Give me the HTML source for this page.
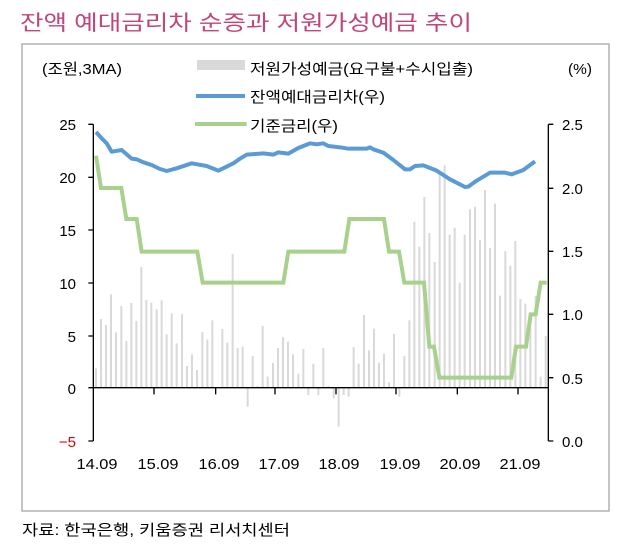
<!DOCTYPE html>
<html><head><meta charset="utf-8"><style>
body{margin:0;background:#fff;width:620px;height:550px;overflow:hidden;font-family:"Liberation Sans","Noto Sans CJK KR",sans-serif;}
</style></head><body>
<svg width="620" height="550" xmlns="http://www.w3.org/2000/svg" font-family="'Liberation Sans','Noto Sans CJK KR',sans-serif">
<text x="20" y="30" font-size="21" fill="#c0457a" textLength="452" lengthAdjust="spacingAndGlyphs">잔액 예대금리차 순증과 저원가성예금 추이</text>
<rect x="22" y="44" width="587" height="467" fill="none" stroke="#a6a6a6" stroke-width="1.3"/>
<text x="42" y="74" font-size="15" fill="#000" textLength="80" lengthAdjust="spacingAndGlyphs">(조원,3MA)</text>
<text x="568" y="74" font-size="15" fill="#000" textLength="24" lengthAdjust="spacingAndGlyphs">(%)</text>
<rect x="197" y="60" width="48" height="10" fill="#d9d9d9"/>
<text x="250" y="74" font-size="15" fill="#000" textLength="223" lengthAdjust="spacingAndGlyphs">저원가성예금(요구불+수시입출)</text>
<line x1="196" y1="96" x2="245" y2="96" stroke="#5b9bd5" stroke-width="4"/>
<text x="250" y="102" font-size="15" fill="#000" textLength="135" lengthAdjust="spacingAndGlyphs">잔액예대금리차(우)</text>
<g transform="translate(80,110) scale(0.33333)">
<g fill="#d9d9d9">
<rect x="45" y="775" width="6" height="58"/><rect x="60" y="627" width="6" height="206"/><rect x="75" y="645" width="6" height="188"/><rect x="90" y="553" width="6" height="280"/><rect x="105" y="667" width="6" height="166"/><rect x="121" y="588" width="6" height="245"/><rect x="136" y="693" width="6" height="140"/><rect x="151" y="579" width="6" height="254"/><rect x="166" y="633" width="6" height="200"/><rect x="181" y="471" width="6" height="362"/><rect x="196" y="570" width="6" height="263"/><rect x="211" y="578" width="6" height="255"/><rect x="227" y="598" width="6" height="235"/><rect x="242" y="571" width="6" height="262"/><rect x="257" y="673" width="6" height="160"/><rect x="272" y="610" width="6" height="223"/><rect x="287" y="700" width="6" height="133"/><rect x="303" y="613" width="6" height="220"/><rect x="318" y="768" width="6" height="65"/><rect x="333" y="733" width="6" height="100"/><rect x="348" y="780" width="6" height="53"/><rect x="364" y="666" width="6" height="167"/><rect x="379" y="689" width="6" height="144"/><rect x="394" y="631" width="6" height="202"/><rect x="424" y="657" width="6" height="176"/><rect x="439" y="698" width="6" height="135"/><rect x="455" y="432" width="6" height="401"/><rect x="470" y="714" width="6" height="119"/><rect x="485" y="710" width="6" height="123"/><rect x="500" y="833" width="6" height="57"/><rect x="515" y="738" width="6" height="95"/><rect x="530" y="828" width="6" height="5"/><rect x="545" y="648" width="6" height="185"/><rect x="560" y="800" width="6" height="33"/><rect x="576" y="759" width="6" height="74"/><rect x="591" y="714" width="6" height="119"/><rect x="606" y="681" width="6" height="152"/><rect x="621" y="695" width="6" height="138"/><rect x="636" y="733" width="6" height="100"/><rect x="652" y="791" width="6" height="42"/><rect x="667" y="717" width="6" height="116"/><rect x="682" y="833" width="6" height="22"/><rect x="697" y="761" width="6" height="72"/><rect x="712" y="833" width="6" height="22"/><rect x="727" y="714" width="6" height="119"/><rect x="742" y="828" width="6" height="5"/><rect x="758" y="833" width="6" height="32"/><rect x="773" y="833" width="6" height="117"/><rect x="788" y="833" width="6" height="22"/><rect x="803" y="833" width="6" height="27"/><rect x="818" y="711" width="6" height="122"/><rect x="833" y="761" width="6" height="72"/><rect x="849" y="615" width="6" height="218"/><rect x="864" y="721" width="6" height="112"/><rect x="879" y="656" width="6" height="177"/><rect x="894" y="758" width="6" height="75"/><rect x="909" y="731" width="6" height="102"/><rect x="924" y="817" width="6" height="16"/><rect x="939" y="672" width="6" height="161"/><rect x="955" y="833" width="6" height="27"/><rect x="970" y="738" width="6" height="95"/><rect x="985" y="631" width="6" height="202"/><rect x="1000" y="335" width="6" height="498"/><rect x="1015" y="410" width="6" height="423"/><rect x="1030" y="261" width="6" height="572"/><rect x="1045" y="369" width="6" height="464"/><rect x="1061" y="456" width="6" height="377"/><rect x="1076" y="185" width="6" height="648"/><rect x="1091" y="166" width="6" height="667"/><rect x="1106" y="374" width="6" height="459"/><rect x="1121" y="353" width="6" height="480"/><rect x="1136" y="518" width="6" height="315"/><rect x="1151" y="374" width="6" height="459"/><rect x="1167" y="298" width="6" height="535"/><rect x="1182" y="290" width="6" height="543"/><rect x="1197" y="390" width="6" height="443"/><rect x="1212" y="240" width="6" height="593"/><rect x="1227" y="414" width="6" height="419"/><rect x="1242" y="281" width="6" height="552"/><rect x="1257" y="557" width="6" height="276"/><rect x="1273" y="423" width="6" height="410"/><rect x="1288" y="467" width="6" height="366"/><rect x="1303" y="393" width="6" height="440"/><rect x="1318" y="567" width="6" height="266"/><rect x="1333" y="581" width="6" height="252"/><rect x="1348" y="613" width="6" height="220"/><rect x="1364" y="558" width="6" height="275"/><rect x="1379" y="800" width="6" height="33"/><rect x="1394" y="678" width="6" height="155"/>
</g>
<polyline fill="none" stroke="#5b9bd5" stroke-width="12" stroke-linejoin="round" points="48,66 65,85 80,100 95,125 125,120 155,146 170,148 190,157 215,165 240,177 260,183 290,175 335,160 380,168 415,182 460,160 480,146 500,134 550,130 580,134 595,127 625,131 655,114 690,100 710,103 730,100 745,108 780,112 805,116 860,116 870,112 880,118 910,128 940,150 975,178 990,178 1005,168 1030,166 1070,182 1110,208 1155,231 1165,230 1190,212 1230,188 1275,188 1295,193 1330,180 1365,154"/>
<polyline fill="none" stroke="#a9d18e" stroke-width="12" points="48,137 63,234 124,234 139,327 170,327 185,425 352,425 368,518 610,518 625,425 793,425 808,327 912,327 927,425 957,425 973,518 1032,518 1048,710 1062,710 1078,803 1294,803 1308,710 1338,710 1352,613 1367,613 1382,518 1400,518"/>
<line x1="345" y1="42" x2="500" y2="42" stroke="#a9d18e" stroke-width="12"/>
<g stroke="#000" stroke-width="4" fill="none">
<line x1="40" y1="43" x2="40" y2="993"/>
<line x1="1405" y1="43" x2="1405" y2="993"/>
<line x1="40" y1="833" x2="1405" y2="833"/>
<path d="M25,43H40M25,202H40M25,360H40M25,519H40M25,678H40M25,833H40M25,993H40"/>
<path d="M1405,43H1420M1405,235H1420M1405,424H1420M1405,613H1420M1405,803H1420M1405,993H1420"/>
<path d="M222,833V853M407,833V853M585,833V853M768,833V853M948,833V853M1132,833V853M1314,833V853"/>
</g>
</g>
<text x="250" y="131" font-size="15" fill="#000" textLength="88" lengthAdjust="spacingAndGlyphs">기준금리(우)</text>
<g font-size="15" fill="#000" text-anchor="end">
<text x="76" y="130">25</text><text x="76" y="183">20</text><text x="76" y="236">15</text><text x="76" y="289">10</text><text x="76" y="342">5</text><text x="76" y="394">0</text><text x="76" y="447" fill="#e00000">−5</text>
</g>
<g font-size="15" fill="#000">
<text x="562" y="130">2.5</text><text x="562" y="194">2.0</text><text x="562" y="257">1.5</text><text x="562" y="320">1.0</text><text x="562" y="384">0.5</text><text x="562" y="447">0.0</text>
</g>
<g font-size="15" fill="#000" text-anchor="middle">
<text x="97" y="469" textLength="41" lengthAdjust="spacingAndGlyphs">14.09</text><text x="158" y="469" textLength="41" lengthAdjust="spacingAndGlyphs">15.09</text><text x="219" y="469" textLength="41" lengthAdjust="spacingAndGlyphs">16.09</text><text x="279" y="469" textLength="41" lengthAdjust="spacingAndGlyphs">17.09</text><text x="339" y="469" textLength="41" lengthAdjust="spacingAndGlyphs">18.09</text><text x="400" y="469" textLength="41" lengthAdjust="spacingAndGlyphs">19.09</text><text x="460" y="469" textLength="41" lengthAdjust="spacingAndGlyphs">20.09</text><text x="520" y="469" textLength="41" lengthAdjust="spacingAndGlyphs">21.09</text>
</g>
<text x="22" y="535" font-size="15" fill="#000" textLength="268" lengthAdjust="spacingAndGlyphs">자료: 한국은행, 키움증권 리서치센터</text>
</svg>
</body></html>
